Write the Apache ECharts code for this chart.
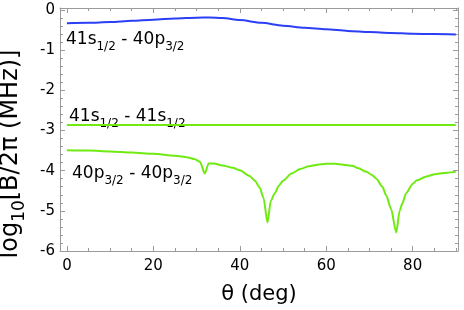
<!DOCTYPE html>
<html><head><meta charset="utf-8">
<script src="https://cdn.jsdelivr.net/npm/echarts@6/dist/echarts.min.js"></script>
<style>html,body{margin:0;padding:0;background:#fff}#c{width:464px;height:310px}</style>
</head><body><div id="c"></div>
<script>
// Data
const thetaBlue = [0, 5, 10, 15, 20, 25, 30, 33, 36, 40, 45, 50, 55, 60, 65, 70, 75, 80, 85, 90];
const blueVals  = [-0.33, -0.32, -0.30, -0.27, -0.24, -0.21, -0.19, -0.185, -0.20, -0.25, -0.32, -0.39, -0.44, -0.48, -0.52, -0.55, -0.57, -0.59, -0.60, -0.61];

const thetaFlat = [0, 30, 60, 90];
const flatVals  = [-2.86, -2.86, -2.86, -2.86];

const thetaLow = [0, 5, 10, 15, 20, 25, 28, 29.5, 30.8, 31.9, 32.8, 34, 36, 38.4, 40, 42.3, 43.5, 44.6, 45.5, 46.4, 47.2, 48.1, 49, 50, 52, 54, 56, 58, 60, 62, 64, 66, 67.5, 69.3, 70.5, 71.6, 73, 73.9, 75, 76.2, 77, 77.6, 78.5, 80, 81, 83, 85.5, 88, 90];
const lowVals  = [-3.49, -3.50, -3.52, -3.55, -3.58, -3.63, -3.67, -3.71, -3.78, -4.07, -3.82, -3.82, -3.87, -3.93, -3.99, -4.13, -4.25, -4.42, -4.68, -5.29, -4.75, -4.56, -4.38, -4.25, -4.07, -3.96, -3.89, -3.85, -3.83, -3.83, -3.85, -3.88, -3.94, -4.03, -4.10, -4.20, -4.40, -4.62, -4.95, -5.54, -5.0, -4.82, -4.56, -4.33, -4.24, -4.15, -4.08, -4.05, -4.03];

const xMajorTicks = [0, 20, 40, 60, 80];
const xMinorTicks = [0, 5, 10, 15, 20, 25, 30, 35, 40, 45, 50, 55, 60, 65, 70, 75, 80, 85, 90];
const yMajorTicks = [-6, -5, -4, -3, -2, -1, 0];
const yMinorTicks = [-6, -5.8, -5.6, -5.4, -5.2, -5, -4.8, -4.6, -4.4, -4.2, -4, -3.8, -3.6, -3.4, -3.2, -3, -2.8, -2.6, -2.4, -2.2, -2, -1.8, -1.6, -1.4, -1.2, -1, -0.8, -0.6, -0.4, -0.2, 0];

const FONT = 'DejaVu Sans';
const FRAME = '#9a9a9a';
const BLUE = '#2b3ff5';
const GREEN = '#6fea12';

const XMIN = -1.6, XMAX = 90.5, YMIN = -6, YMAX = 0.05;

function xAx(pos, ticks, len, main) {
  return {
    type: 'value', position: pos, min: XMIN, max: XMAX,
    axisLine: { show: main, onZero: false, lineStyle: { color: FRAME, width: 1 } },
    axisTick: { show: true, inside: true, length: len, customValues: ticks, lineStyle: { color: FRAME, width: 1 } },
    axisLabel: (main && pos === 'bottom') ? { show: true, customValues: xMajorTicks, margin: 8, fontSize: 15, color: '#000', fontFamily: FONT } : { show: false },
    splitLine: { show: false },
    name: (main && pos === 'bottom') ? 'θ (deg)' : '',
    nameLocation: 'middle', nameGap: 33,
    nameTextStyle: { fontSize: 21, color: '#000', fontFamily: FONT }
  };
}
function yAx(pos, ticks, len, main) {
  return {
    type: 'value', position: pos, min: YMIN, max: YMAX,
    axisLine: { show: main, onZero: false, lineStyle: { color: FRAME, width: 1 } },
    axisTick: { show: true, inside: true, length: len, customValues: ticks, lineStyle: { color: FRAME, width: 1 } },
    axisLabel: (main && pos === 'left') ? { show: true, customValues: yMajorTicks, margin: 5, fontSize: 15, color: '#000', fontFamily: FONT } : { show: false },
    splitLine: { show: false }
  };
}

const pairs = (xs, ys) => xs.map((x, i) => [x, ys[i]]);

const chart = echarts.init(document.getElementById('c'), null, { renderer: 'canvas' });
const annRich = {
  a: { fontSize: 17, fontFamily: FONT, color: '#000', lineHeight: 24 },
  s: { fontSize: 12, fontFamily: FONT, color: '#000', lineHeight: 27, verticalAlign: 'bottom' }
};
chart.setOption({
  animation: false,
  backgroundColor: '#fff',
  grid: { left: 60, right: 6, top: 8, bottom: 52, containLabel: false },
  xAxis: [xAx('bottom', xMajorTicks, 5, true), xAx('bottom', xMinorTicks, 3, false), xAx('top', xMajorTicks, 5, true), xAx('top', xMinorTicks, 3, false)],
  yAxis: [yAx('left', yMajorTicks, 5, true), yAx('left', yMinorTicks, 3, false), yAx('right', yMajorTicks, 5, true), yAx('right', yMinorTicks, 3, false)],
  series: [
    { type: 'line', name: '41s1/2 - 40p3/2', data: pairs(thetaBlue, blueVals), showSymbol: false, smooth: 0.3, smoothMonotone: 'x', lineStyle: { color: BLUE, width: 2 }, itemStyle: { color: BLUE } },
    { type: 'line', name: '41s1/2 - 41s1/2', data: pairs(thetaFlat, flatVals), showSymbol: false, lineStyle: { color: GREEN, width: 2 }, itemStyle: { color: GREEN } },
    { type: 'line', name: '40p3/2 - 40p3/2', data: pairs(thetaLow, lowVals), showSymbol: false, smooth: 0.25, smoothMonotone: 'x', lineStyle: { color: GREEN, width: 2 }, itemStyle: { color: GREEN } }
  ],
  graphic: [
    { type: 'text', left: 66, top: 31, style: { text: '{a|41s}{s|1/2}{a| - 40p}{s|3/2}', rich: annRich } },
    { type: 'text', left: 69, top: 108, style: { text: '{a|41s}{s|1/2}{a| - 41s}{s|1/2}', rich: annRich } },
    { type: 'text', left: 72, top: 165, style: { text: '{a|40p}{s|3/2}{a| - 40p}{s|3/2}', rich: annRich } },
    { type: 'text', x: 11, y: 154, rotation: Math.PI / 2,
      style: { text: '{a|log}{s|10}{a|[B/2π (MHz)]}', align: 'center', verticalAlign: 'middle',
        rich: { a: { fontSize: 24, fontFamily: FONT, color: '#000', lineHeight: 30 }, s: { fontSize: 17, fontFamily: FONT, color: '#000', lineHeight: 34, verticalAlign: 'bottom' } } } }
  ]
});
</script>
</body></html>
